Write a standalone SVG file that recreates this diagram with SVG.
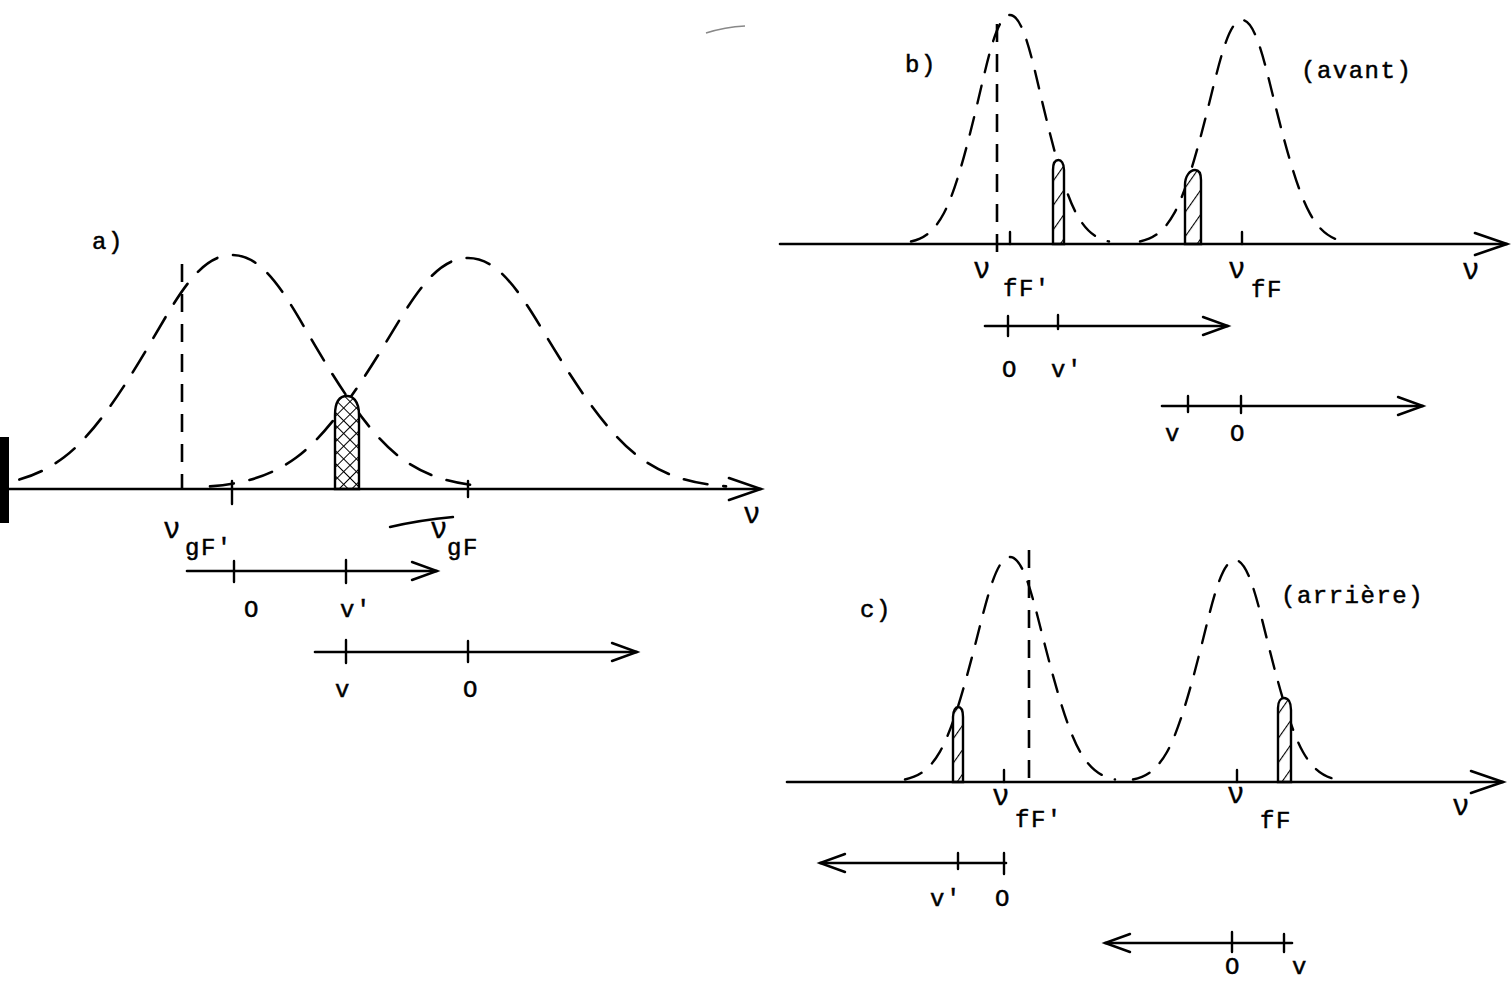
<svg xmlns="http://www.w3.org/2000/svg" width="1511" height="981" viewBox="0 0 1511 981">
<style>
.ax{fill:none;stroke:#000;stroke-width:2.6;stroke-linecap:round}
.tk{fill:none;stroke:#000;stroke-width:2.4;stroke-linecap:round}
.ga{fill:none;stroke:#000;stroke-width:2.6;stroke-dasharray:24 16;stroke-linecap:round}
.gb{fill:none;stroke:#000;stroke-width:2.4;stroke-dasharray:18 14;stroke-linecap:round}
.vd{fill:none;stroke:#000;stroke-width:2.6;stroke-dasharray:18 12}
.hx{stroke:#000;stroke-width:2.4}
.t{font-family:"Liberation Mono","DejaVu Sans Mono",monospace;font-size:24px;letter-spacing:1.5px;fill:#000;stroke:#000;stroke-width:0.5}
.nu{font-family:"Liberation Mono","DejaVu Sans Mono",monospace;font-size:29px;fill:#000;stroke:#000;stroke-width:0.4}
</style>
<defs>
<marker id="ahBig" viewBox="-36 -14 40 28" markerWidth="40" markerHeight="28" refX="0" refY="0" orient="auto" markerUnits="userSpaceOnUse"><path d="M-32,-11 L0,0 L-32,11" fill="none" stroke="#000" stroke-width="2.6" stroke-linecap="round"/></marker>
<marker id="ahSm" viewBox="-30 -12 34 24" markerWidth="34" markerHeight="24" refX="0" refY="0" orient="auto" markerUnits="userSpaceOnUse"><path d="M-25,-9 L0,0 L-25,9" fill="none" stroke="#000" stroke-width="2.4" stroke-linecap="round"/></marker>
<pattern id="cross" width="9" height="9" patternUnits="userSpaceOnUse" patternTransform="rotate(45)"><rect width="9" height="9" fill="#fff"/><path d="M0,0 H9 M0,0 V9" stroke="#000" stroke-width="2"/></pattern>
<pattern id="slash" width="14" height="14" patternUnits="userSpaceOnUse" patternTransform="rotate(-55)"><rect width="14" height="14" fill="#fff"/><path d="M0,0 H14" stroke="#000" stroke-width="2.2"/></pattern>
</defs>

<g id="panel-a">
  <rect id="a-bar" x="0" y="437" width="9" height="86" fill="#000"/>
  <text class="t" x="92" y="249">a)</text>
  <path id="a-gauss1" class="ga" d="M -20,486.4 C 8,483.8 36,478.4 64,457.3 C 92,436.2 120,394.4 148,347.1 C 176,299.8 198.4,255 232,255 C 265.6,255 288,299.8 316,347.1 C 344,394.4 372,436.2 400,457.3 C 428,478.4 456,483.8 484,486.4"/>
  <path id="a-gauss2" class="ga" d="M 210,486.4 C 238.6,483.9 267.4,478.6 296,457.7 C 324.6,436.9 353.4,395.6 382,348.9 C 410.6,302.2 433.6,258 468,258 C 502.4,258 525.4,302.2 554,348.9 C 582.6,395.6 611.4,436.9 640,457.7 C 668.6,478.6 697.4,483.9 726,486.4"/>
  <line class="vd" x1="182" y1="264" x2="182" y2="489"/>
  <path id="a-line" class="hx" fill="url(#cross)" d="M335,489 V415 C335,399 342,396 347,396 C352,396 359,400 359,415 V489 Z"/>
  <line class="ax" x1="9" y1="489" x2="761" y2="489" marker-end="url(#ahBig)"/>
  <line class="tk" x1="232" y1="481" x2="232" y2="504"/>
  <line class="tk" x1="468" y1="481" x2="468" y2="497"/>
  <text class="nu" x="743" y="523">ν</text>
  <text class="nu" x="163" y="538">ν</text>
  <text class="t" x="185" y="555">gF'</text>
  <path class="tk" d="M390,527 Q420,520 453,517" stroke-width="2"/>
  <text class="nu" x="430" y="538">ν</text>
  <text class="t" x="447" y="555">gF</text>
  <g id="a-arrow1">
    <line class="ax" x1="187" y1="571" x2="437" y2="571" marker-end="url(#ahSm)"/>
    <line class="tk" x1="234" y1="561" x2="234" y2="582"/>
    <line class="tk" x1="346" y1="560" x2="346" y2="583"/>
    <text class="t" x="244" y="617">O</text>
    <text class="t" x="340" y="617">v'</text>
  </g>
  <g id="a-arrow2">
    <line class="ax" x1="315" y1="652" x2="637" y2="652" marker-end="url(#ahSm)"/>
    <line class="tk" x1="346" y1="640" x2="346" y2="663"/>
    <line class="tk" x1="468" y1="641" x2="468" y2="662"/>
    <text class="t" x="335" y="697">v</text>
    <text class="t" x="463" y="697">O</text>
  </g>
  <path d="M706,33 Q725,27 745,26" fill="none" stroke="#888" stroke-width="1.5"/>
</g>

<g id="panel-b">
  <text class="t" x="905" y="72">b)</text>
  <text class="t" x="1301" y="78">(avant)</text>
  <path id="b-gauss1" class="gb" d="M 911,241.5 C 922,238.9 933,233.7 944,213 C 955,192.4 966,151.4 977,105.1 C 988,58.8 996.8,15 1010,15 C 1023.2,15 1032,58.8 1043,105.1 C 1054,151.4 1065,192.4 1076,213 C 1087,233.7 1098,238.9 1109,241.5"/>
  <path id="b-gauss2" class="gb" d="M 1140,241.5 C 1151.3,239 1162.7,233.9 1174,213.7 C 1185.3,193.5 1196.7,153.4 1208,108.1 C 1219.3,62.8 1228.4,20 1242,20 C 1255.6,20 1264.7,62.8 1276,108.1 C 1287.3,153.4 1298.7,193.5 1310,213.7 C 1321.3,233.9 1332.7,239 1344,241.5"/>
  <line class="vd" x1="997" y1="24" x2="997" y2="256"/>
  <path class="hx" fill="url(#slash)" d="M1053,244 V170 C1053,162 1056,160 1058.5,160 C1061,160 1064,163 1064,170 V244 Z"/>
  <path class="hx" fill="url(#slash)" d="M1185,244 V185 C1185,176 1190,170 1195,170 C1199,170 1201,173 1201,180 V244 Z"/>
  <line class="ax" x1="780" y1="244" x2="1507" y2="244" marker-end="url(#ahBig)"/>
  <line class="tk" x1="1010" y1="232" x2="1010" y2="244"/>
  <line class="tk" x1="1242" y1="232" x2="1242" y2="244"/>
  <text class="nu" x="973" y="278">ν</text>
  <text class="t" x="1003" y="296">fF'</text>
  <text class="nu" x="1228" y="278">ν</text>
  <text class="t" x="1251" y="297">fF</text>
  <text class="nu" x="1462" y="279">ν</text>
  <g id="b-arrow1">
    <line class="ax" x1="985" y1="326" x2="1228" y2="326" marker-end="url(#ahSm)"/>
    <line class="tk" x1="1008" y1="316" x2="1008" y2="336"/>
    <line class="tk" x1="1058" y1="315" x2="1058" y2="329"/>
    <text class="t" x="1002" y="377">O</text>
    <text class="t" x="1051" y="377">v'</text>
  </g>
  <g id="b-arrow2">
    <line class="ax" x1="1162" y1="406" x2="1423" y2="406" marker-end="url(#ahSm)"/>
    <line class="tk" x1="1188" y1="396" x2="1188" y2="412"/>
    <line class="tk" x1="1241" y1="396" x2="1241" y2="413"/>
    <text class="t" x="1165" y="441">v</text>
    <text class="t" x="1230" y="441">O</text>
  </g>
</g>

<g id="panel-c">
  <text class="t" x="860" y="617">c)</text>
  <text class="t" x="1281" y="603">(arrière)</text>
  <path id="c-gauss1" class="gb" d="M 905,779.5 C 916.7,777 928.3,771.9 940,751.6 C 951.7,731.3 963.3,691 975,645.5 C 986.7,600 996,557 1010,557 C 1024,557 1033.3,600 1045,645.5 C 1056.7,691 1068.3,731.3 1080,751.6 C 1091.7,771.9 1103.3,777 1115,779.5"/>
  <path id="c-gauss2" class="gb" d="M 1133,779.5 C 1144.3,777.1 1155.7,772 1167,752 C 1178.3,731.9 1189.7,692.2 1201,647.4 C 1212.3,602.5 1221.4,560 1235,560 C 1248.6,560 1257.7,602.5 1269,647.4 C 1280.3,692.2 1291.7,731.9 1303,752 C 1314.3,772 1325.7,777.1 1337,779.5"/>
  <line class="vd" x1="1029" y1="550" x2="1029" y2="782"/>
  <path class="hx" fill="url(#slash)" d="M953,782 V717 C953,710 956,707 958,707 C961,707 963,710 963,717 V782 Z"/>
  <path class="hx" fill="url(#slash)" d="M1278,782 V708 C1278,701 1281,698 1284,698 C1288,698 1291,702 1291,710 V782 Z"/>
  <line class="ax" x1="787" y1="782" x2="1503" y2="782" marker-end="url(#ahBig)"/>
  <line class="tk" x1="1004" y1="770" x2="1004" y2="782"/>
  <line class="tk" x1="1237" y1="770" x2="1237" y2="782"/>
  <text class="nu" x="992" y="805">ν</text>
  <text class="t" x="1015" y="827">fF'</text>
  <text class="nu" x="1227" y="803">ν</text>
  <text class="t" x="1260" y="828">fF</text>
  <text class="nu" x="1452" y="815">ν</text>
  <g id="c-arrow1">
    <line class="ax" x1="1006" y1="863" x2="820" y2="863" marker-end="url(#ahSm)"/>
    <line class="tk" x1="958" y1="853" x2="958" y2="869"/>
    <line class="tk" x1="1004" y1="853" x2="1004" y2="874"/>
    <text class="t" x="930" y="906">v'</text>
    <text class="t" x="995" y="906">O</text>
  </g>
  <g id="c-arrow2">
    <line class="ax" x1="1292" y1="943" x2="1105" y2="943" marker-end="url(#ahSm)"/>
    <line class="tk" x1="1232" y1="932" x2="1232" y2="952"/>
    <line class="tk" x1="1284" y1="934" x2="1284" y2="952"/>
    <text class="t" x="1225" y="974">O</text>
    <text class="t" x="1292" y="974">v</text>
  </g>
</g>
</svg>
